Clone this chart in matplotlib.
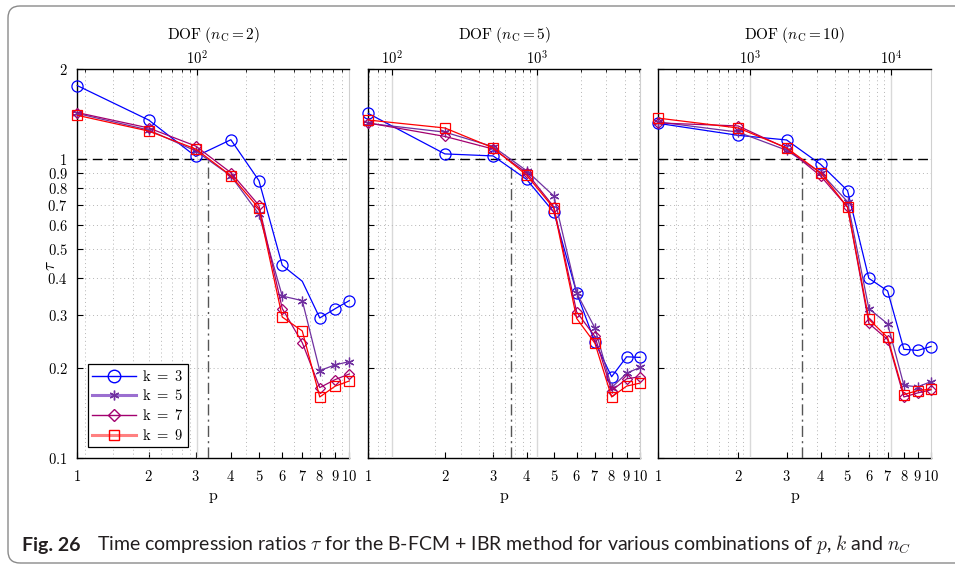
import matplotlib
matplotlib.use("Agg")
import matplotlib.pyplot as plt
from matplotlib.lines import Line2D
from matplotlib.patches import FancyBboxPatch
from matplotlib.ticker import FixedLocator, NullLocator, LogLocator
from matplotlib.transforms import IdentityTransform

plt.rcParams['mathtext.fontset'] = 'cm'
plt.rcParams['font.family'] = ['Lato', 'DejaVu Sans']

# ---------------- data ----------------
p_values = [1, 2, 3, 4, 5, 6, 7, 8, 9, 10]
p_labels = ['1', '2', '3', '4', '5', '6', '7', '8', '9', '10']
k_labels = ['k = 3', 'k = 5', 'k = 7', 'k = 9']
nC_values = [2, 5, 10]

dof_nc2 = [18, 50, 98, 162, 242, 338, 450, 578, 722, 882]
dof_nc5 = [69, 232, 498, 846, 1303, 1870, 2497, 3254, 4128, 5100]
dof_nc10 = [224, 826, 1824, 3178, 4940, 7000, 9510, 12410, 15530, 19330]

tau_nc2_k3 = [1.76, 1.35, 1.02, 1.16, 0.847, 0.441, 0.39, 0.294, 0.316, 0.336]
tau_nc2_k5 = [1.42, 1.25, 1.064, 0.878, 0.654, 0.348, 0.336, 0.196, 0.205, 0.21]
tau_nc2_k7 = [1.43, 1.27, 1.105, 0.90, 0.70, 0.316, 0.243, 0.172, 0.183, 0.191]
tau_nc2_k9 = [1.40, 1.24, 1.08, 0.88, 0.684, 0.296, 0.266, 0.160, 0.174, 0.181]

tau_nc5_k3 = [1.42, 1.04, 1.024, 0.855, 0.664, 0.357, 0.244, 0.187, 0.218, 0.217]
tau_nc5_k5 = [1.316, 1.23, 1.10, 0.914, 0.752, 0.357, 0.272, 0.172, 0.192, 0.201]
tau_nc5_k7 = [1.32, 1.19, 1.08, 0.90, 0.692, 0.308, 0.255, 0.168, 0.184, 0.187]
tau_nc5_k9 = [1.35, 1.27, 1.09, 0.884, 0.684, 0.293, 0.242, 0.160, 0.174, 0.178]

tau_nc10_k3 = [1.316, 1.20, 1.158, 0.96, 0.784, 0.399, 0.362, 0.231, 0.229, 0.236]
tau_nc10_k5 = [1.33, 1.23, 1.07, 0.90, 0.72, 0.316, 0.281, 0.175, 0.173, 0.180]
tau_nc10_k7 = [1.32, 1.29, 1.086, 0.878, 0.69, 0.282, 0.249, 0.160, 0.165, 0.169]
tau_nc10_k9 = [1.37, 1.27, 1.09, 0.90, 0.69, 0.291, 0.253, 0.163, 0.168, 0.170]

breakeven_dof = [117, 656, 2343]

y_ticks = [0.1, 0.2, 0.3, 0.4, 0.5, 0.6, 0.7, 0.8, 0.9, 1, 2]
y_ticklabels = ['0.1', '0.2', '0.3', '0.4', '0.5', '0.6', '0.7', '0.8', '0.9', '1', '2']
top_decades = [[100], [100, 1000], [1000, 10000]]
top_decade_labels = [['10^{2}'], ['10^{2}', '10^{3}'], ['10^{3}', '10^{4}']]

panels = [
    (dof_nc2, [tau_nc2_k3, tau_nc2_k5, tau_nc2_k7, tau_nc2_k9]),
    (dof_nc5, [tau_nc5_k3, tau_nc5_k5, tau_nc5_k7, tau_nc5_k9]),
    (dof_nc10, [tau_nc10_k3, tau_nc10_k5, tau_nc10_k7, tau_nc10_k9]),
]

# ---------------- styles ----------------
colors = ['#0000FF', '#7030A0', '#A3006F', '#FF0000']
markers = ['o', (6, 2, 0), 'D', 's']
msizes = [8, 7, 5.5, 6.5]

W, H = 955, 569
fig = plt.figure(figsize=(W / 100, H / 100), dpi=100)

ax_px = [(77.3, 349.3), (368.3, 640.0), (658.3, 931.0)]
top_px, bot_px = 69, 458

mfont = 10.5
for i, (dof, series) in enumerate(panels):
    l, r = ax_px[i]
    ax = fig.add_axes([l / W, 1 - bot_px / H, (r - l) / W, (bot_px - top_px) / H])
    ax.set_xscale('log')
    ax.set_yscale('log')
    ax.set_xlim(dof[0], dof[-1])
    ax.set_ylim(0.1, 2)

    # grid from DOF axis (drawn behind)
    ax.set_axisbelow(True)
    ax.xaxis.set_major_locator(FixedLocator(top_decades[i]))
    ax.xaxis.set_minor_locator(LogLocator(base=10, subs=[2, 3, 4, 5, 6, 7, 8, 9], numticks=20))
    ax.grid(True, which='major', axis='x', color='#d9d9d9', lw=1.0, ls='-')
    ax.grid(True, which='minor', axis='x', color='#b5b5b5', lw=0.7, ls=(0, (1, 3)))
    ax.yaxis.set_major_locator(FixedLocator(y_ticks))
    ax.yaxis.set_minor_locator(NullLocator())
    ax.grid(True, which='major', axis='y', color='#b5b5b5', lw=0.7, ls=(0, (1, 3)))

    # DOF axis on top
    ax.xaxis.tick_top()
    ax.xaxis.set_ticks(top_decades[i], labels=['$' + s + '$' for s in top_decade_labels[i]])
    ax.tick_params(axis='x', which='major', direction='in', length=4, width=0.8,
                   labelsize=mfont, pad=2, top=True, bottom=False)
    ax.tick_params(axis='x', which='minor', direction='in', length=2.5, width=0.6,
                   top=True, bottom=False)
    ax.set_xlabel(r'$\mathrm{DOF}\ (n_\mathrm{C}=%d)$' % nC_values[i], fontsize=mfont + 0.5,
                  labelpad=7)
    ax.xaxis.set_label_position('top')

    # p axis at bottom
    sec = ax.secondary_xaxis('bottom')
    sec.set_xticks(dof, labels=['$' + s + '$' for s in p_labels])
    sec.xaxis.set_minor_locator(NullLocator())
    sec.tick_params(axis='x', direction='in', length=4, width=0.8, labelsize=mfont, pad=8)
    sec.set_xlabel(r'$\mathrm{p}$', fontsize=mfont + 1, labelpad=5)
    sec.spines['bottom'].set_linewidth(1.0)

    if i == 0:
        ax.set_yticks(y_ticks, labels=['$' + s + '$' for s in y_ticklabels])
        ax.set_ylabel(r'$\mathrm{\tau}$', fontsize=mfont + 2)
        ax.yaxis.set_label_coords(-0.072, 0.496)
    else:
        ax.set_yticks(y_ticks, labels=[''] * len(y_ticks))
    ax.tick_params(axis='y', direction='in', length=4, width=0.8, labelsize=mfont, pad=7,
                   left=True, right=False)

    ax.spines['bottom'].set_visible(False)
    ax.spines['right'].set_color('#d0d0d0')
    ax.spines['left'].set_linewidth(1.0)
    ax.spines['top'].set_linewidth(1.0)

    # reference lines
    ax.axhline(1.0, color='black', lw=1.0, ls=(0, (7, 4)), zorder=2)
    ax.plot([breakeven_dof[i], breakeven_dof[i]], [0.1, 1.0], color='#555555', lw=1.0,
            ls=(0, (8, 3, 1.5, 3)), zorder=2)

    for j, tau in enumerate(series):
        mev = None
        if i == 0 and j == 0:
            mev = [0, 1, 2, 3, 4, 5, 7, 8, 9]
        ax.plot(dof, tau, color=colors[j], lw=0.9, marker=markers[j], ms=msizes[j],
                mfc='none', mec=colors[j], mew=0.9, markevery=mev, zorder=3 + j,
                clip_on=False)

    if i == 0:
        handles = [
            Line2D([], [], color=colors[0], lw=1.0, marker='o', ms=9, mfc='none', mec=colors[0]),
            Line2D([], [], color='#9B6FD0', lw=2.2, marker=(6, 2, 0), ms=7, mfc='none', mec=colors[1]),
            Line2D([], [], color=colors[2], lw=1.0, marker='D', ms=6, mfc='none', mec=colors[2]),
            Line2D([], [], color='#FF8080', lw=2.2, marker='s', ms=7, mfc='none', mec=colors[3]),
        ]
        leg = ax.legend(handles, [r'$\mathrm{%s}$' % s.replace(' ', r'\ ') for s in k_labels],
                        loc='lower left', bbox_to_anchor=(0.038, 0.028), fontsize=mfont,
                        frameon=True, fancybox=False, edgecolor='black', framealpha=1,
                        handlelength=3.0, handletextpad=0.4, borderpad=0.3,
                        labelspacing=0.32, borderaxespad=0)
        leg.get_frame().set_linewidth(0.9)

# caption
fig.text(22 / W, 1 - 545 / H, 'Fig. 26', fontsize=14, fontweight='bold', va='center',
         ha='left', color='#231f20')
fig.text(97 / W, 1 - 545 / H,
         r'Time compression ratios $\tau$ for the B-FCM + IBR method for various combinations of $p$, $k$ and $n_C$',
         fontsize=14, va='center', ha='left', color='#231f20')

# rounded border
border = FancyBboxPatch((8, H - 563), 975, 557, boxstyle='round,pad=0,rounding_size=12',
                        transform=IdentityTransform(), fill=False, edgecolor='#8a8a8a',
                        lw=1.0, figure=fig)
fig.patches.append(border)

fig.savefig('out.png', dpi=100)
